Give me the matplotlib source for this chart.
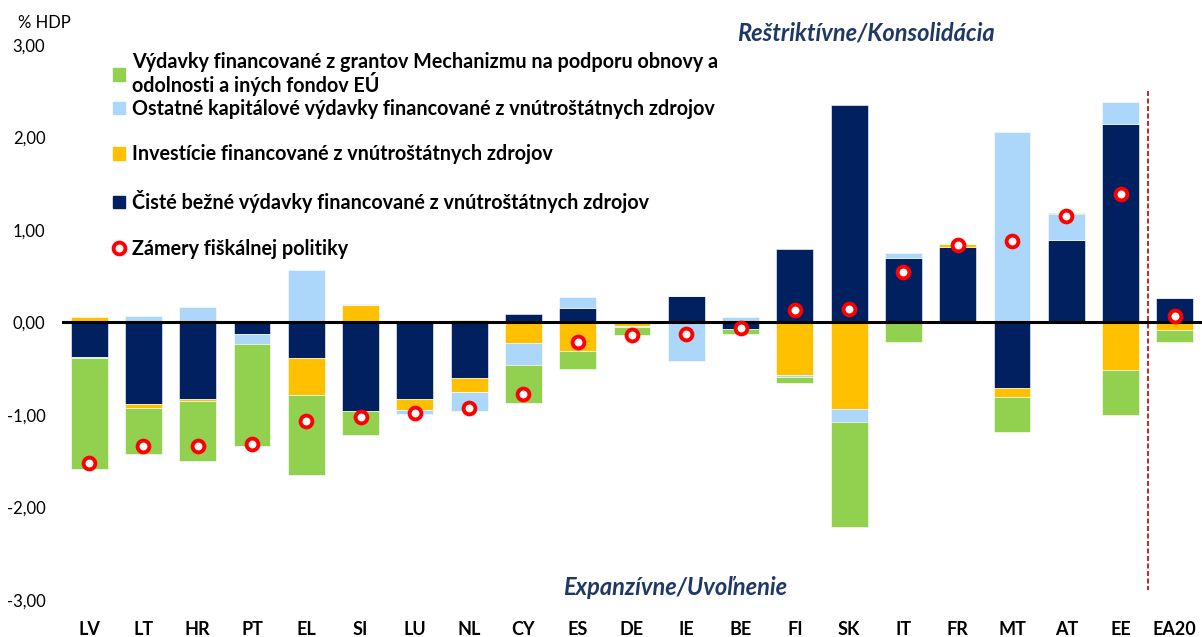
import numpy as np
import matplotlib
matplotlib.use('Agg')
from matplotlib import pyplot as plt
from matplotlib.patches import Patch
from matplotlib.lines import Line2D

plt.rcParams['font.family'] = ['Lato', 'DejaVu Sans']

countries = ['LV', 'LT', 'HR', 'PT', 'EL', 'SI', 'LU', 'NL', 'CY', 'ES', 'DE',
             'IE', 'BE', 'FI', 'SK', 'IT', 'FR', 'MT', 'AT', 'EE', 'EA20']

# series in stacking order (Excel stacks them away from zero in this order)
cur_exp = [-0.37, -0.88, -0.83, -0.12, -0.38, -0.96, -0.83, -0.60, 0.09, 0.16, -0.01,
           0.29, -0.07, 0.79, 2.35, 0.70, 0.82, -0.71, 0.89, 2.15, 0.27]
invest = [0.06, -0.04, -0.02, 0.02, -0.40, 0.19, -0.12, -0.15, -0.22, -0.31, -0.03,
          0.0, 0.0, -0.57, -0.93, -0.01, 0.03, -0.10, -0.01, -0.51, -0.08]
other_cap = [-0.01, 0.07, 0.17, -0.11, 0.57, 0.01, -0.04, -0.21, -0.24, 0.12, -0.01,
             -0.42, 0.06, -0.02, -0.15, 0.05, 0.0, 2.06, 0.28, 0.23, 0.0]
eu_grants = [-1.20, -0.50, -0.65, -1.11, -0.87, -0.26, 0.0, 0.03, -0.41, -0.19, -0.08,
             0.0, -0.05, -0.06, -1.13, -0.20, -0.01, -0.37, 0.01, -0.49, -0.13]
intent = [-1.52, -1.34, -1.33, -1.31, -1.07, -1.02, -0.98, -0.92, -0.77, -0.21, -0.13,
          -0.12, -0.06, 0.14, 0.15, 0.55, 0.84, 0.88, 1.15, 1.39, 0.07]

c_navy = '#002060'
c_yellow = '#FFC000'
c_lblue = '#ADD7FA'
c_green = '#92D050'
c_text = '#1F3864'

fig = plt.figure(figsize=(12.02, 6.37), dpi=100)
ax = fig.add_axes([62/1202, 37/637, 1140/1202, 555/637])

x = np.arange(len(countries))
width = 0.68
pos_bottom = np.zeros(len(x))
neg_bottom = np.zeros(len(x))
for vals, col in [(cur_exp, c_navy), (invest, c_yellow), (other_cap, c_lblue), (eu_grants, c_green)]:
    vals = np.array(vals)
    bottom = np.where(vals >= 0, pos_bottom, neg_bottom)
    ax.bar(x, vals, width, bottom=bottom, color=col, edgecolor='white', linewidth=0.4, zorder=2)
    pos_bottom += np.clip(vals, 0, None)
    neg_bottom += np.clip(vals, None, 0)

ax.axhline(0, color='black', lw=2.2, zorder=3)
ax.plot(x, intent, 'o', ls='none', mfc='white', mec='#FF0000', ms=8.5, mew=2.8, zorder=4)

# separator before the euro area
ax.plot([19.5, 19.5], [2.5, -2.89], color='#C00000', lw=1.2, ls=(0, (3, 1.5)), zorder=1)

ax.set_xlim(-0.5, 20.5)
ax.set_ylim(-3, 3)
ax.set_yticks(np.arange(-3, 4, 1))
ax.set_yticklabels([('%.2f' % v).replace('.', ',') for v in np.arange(-3, 4, 1)], fontsize=12)
ax.set_xticks(x)
ax.set_xticklabels(countries, fontsize=13, fontweight='bold')
ax.tick_params(axis='y', length=0, pad=12)
ax.tick_params(axis='x', length=0, pad=15)
for s in ax.spines.values():
    s.set_visible(False)

fig.text(18/1202, 1 - 23/637, '% HDP', fontsize=12, va='center', ha='left')

ax.text(14.3, 3.13, 'Reštriktívne/Konsolidácia', fontsize=17, fontweight='bold',
        fontstyle='italic', color=c_text, ha='center', va='center')
ax.text(10.8, -2.87, 'Expanzívne/Uvoľnenie', fontsize=17, fontweight='bold',
        fontstyle='italic', color=c_text, ha='center', va='center')

# legend split in two so the two-line entry can sit tighter like in the original
leg_font = {'weight': 'bold', 'size': 14.2}
leg1 = ax.legend([Patch(color=c_green)],
                 ['Výdavky financované z grantov Mechanizmu na podporu obnovy a\nodolnosti a iných fondov EÚ'],
                 loc='upper left', bbox_to_anchor=(0.045, 0.988), frameon=False, prop=leg_font,
                 handlelength=0.6, handleheight=0.6, handletextpad=0.35, borderaxespad=0, borderpad=0)
leg1.get_texts()[0].set_linespacing(1.0)
ax.add_artist(leg1)

handles = [Patch(color=c_lblue), Patch(color=c_yellow), Patch(color=c_navy),
           Line2D([], [], marker='o', ls='none', mfc='white', mec='#FF0000', ms=8.5, mew=2.8)]
labels = ['Ostatné kapitálové výdavky financované z vnútroštátnych zdrojov',
          'Investície financované z vnútroštátnych zdrojov',
          'Čisté bežné výdavky financované z vnútroštátnych zdrojov',
          'Zámery fiškálnej politiky']
ax.legend(handles, labels, loc='upper left', bbox_to_anchor=(0.045, 0.903), frameon=False,
          prop=leg_font, handlelength=0.6, handleheight=0.6, handletextpad=0.35,
          labelspacing=1.3, borderaxespad=0, borderpad=0)

fig.savefig('out.png', dpi=100)
